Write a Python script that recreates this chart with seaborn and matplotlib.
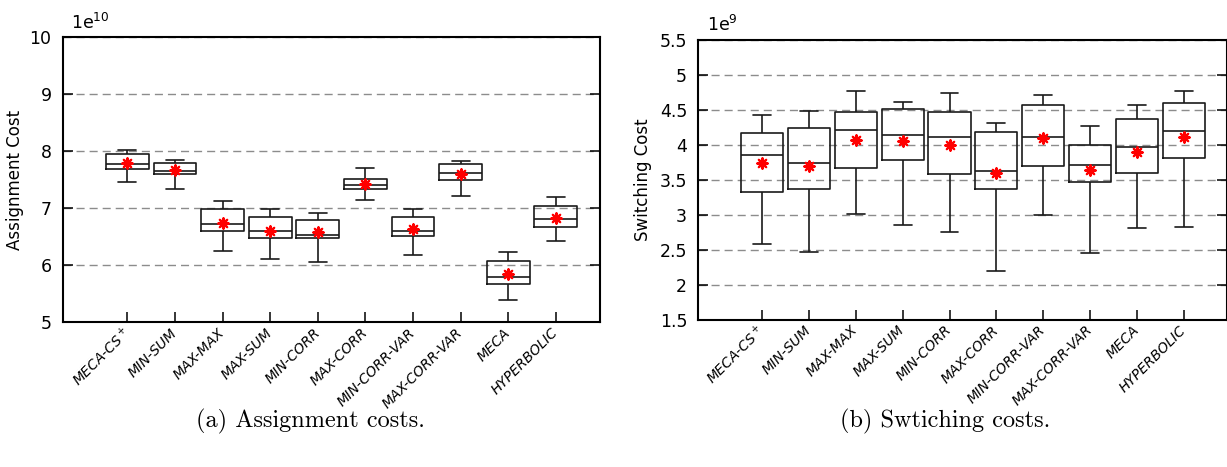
import numpy as np
import pandas as pd
import matplotlib
matplotlib.use("Agg")
import matplotlib.pyplot as plt
import seaborn as sns

# Heuristics compared in both panels
categories = ["MECA-CS$^+$", "MIN-SUM", "MAX-MAX", "MAX-SUM", "MIN-CORR",
              "MAX-CORR", "MIN-CORR-VAR", "MAX-CORR-VAR", "MECA", "HYPERBOLIC"]

# Assignment cost summary (units of 1e10): whisker ends, quartiles, median, mean
assign_low    = [7.46, 7.34, 6.25, 6.11, 6.06, 7.15, 6.18, 7.21, 5.39, 6.43]
assign_q1     = [7.69, 7.60, 6.61, 6.47, 6.48, 7.33, 6.52, 7.49, 5.68, 6.67]
assign_median = [7.77, 7.65, 6.73, 6.61, 6.54, 7.40, 6.60, 7.62, 5.79, 6.82]
assign_q3     = [7.95, 7.79, 6.98, 6.84, 6.80, 7.51, 6.84, 7.77, 6.08, 7.04]
assign_high   = [8.03, 7.85, 7.13, 6.99, 6.92, 7.70, 6.99, 7.83, 6.24, 7.20]
assign_mean   = [7.79, 7.67, 6.75, 6.61, 6.58, 7.43, 6.64, 7.60, 5.84, 6.83]

# Switching cost summary (units of 1e9)
switch_low    = [2.58, 2.46, 3.01, 2.85, 2.75, 2.20, 2.99, 2.45, 2.81, 2.83]
switch_q1     = [3.32, 3.37, 3.67, 3.78, 3.58, 3.36, 3.69, 3.47, 3.59, 3.81]
switch_median = [3.85, 3.73, 4.21, 4.14, 4.11, 3.63, 4.11, 3.71, 3.97, 4.19]
switch_q3     = [4.17, 4.24, 4.47, 4.51, 4.46, 4.18, 4.56, 3.99, 4.37, 4.59]
switch_high   = [4.42, 4.48, 4.76, 4.61, 4.73, 4.31, 4.71, 4.27, 4.56, 4.77]
switch_mean   = [3.74, 3.70, 4.07, 4.05, 4.00, 3.59, 4.09, 3.64, 3.90, 4.11]

assign_ticks = [5, 6, 7, 8, 9, 10]
switch_ticks = [1.5, 2, 2.5, 3, 3.5, 4, 4.5, 5, 5.5]

sns.set_theme(style="white", rc={
    "xtick.direction": "in", "ytick.direction": "in",
    "xtick.bottom": True, "ytick.left": True, "ytick.right": True,
    "xtick.major.size": 7, "ytick.major.size": 7,
    "xtick.major.width": 1.1, "ytick.major.width": 1.1,
    "axes.edgecolor": "black", "axes.linewidth": 1.5,
    "xtick.color": "black", "ytick.color": "black",
    "text.color": "black", "axes.labelcolor": "black",
})
plt.rcParams["font.family"] = ["DejaVu Sans"]
plt.rcParams["mathtext.default"] = "regular"


def five_number_frame(low, q1, med, q3, high):
    # each box is described by its five summary values
    rows = []
    for i, cat in enumerate(categories):
        for v in (low[i], q1[i], med[i], q3[i], high[i]):
            rows.append({"method": cat, "value": v})
    return pd.DataFrame(rows)


def draw_panel(ax, low, q1, med, q3, high, mean, ticks, ylim, ylabel, exp_text,
               label_x):
    df = five_number_frame(low, q1, med, q3, high)
    sns.boxplot(data=df, x="method", y="value", order=categories, ax=ax,
                fill=False, color="#1a1a1a", linewidth=1.2, width=0.9,
                whis=(0, 100), showfliers=False, capwidths=0.38)
    sns.scatterplot(x=np.arange(len(categories)), y=mean, ax=ax,
                    marker=(8, 2, 0), color="red", edgecolor="red",
                    s=55, linewidth=1.6, zorder=5, legend=False)
    ax.set_xlim(-1.36, len(categories) - 1 + 0.93)
    ax.set_ylim(*ylim)
    ax.set_yticks(ticks)
    ax.set_yticklabels([f"{t:g}" for t in ticks], fontsize=12.5)
    ax.set_xticks(np.arange(len(categories)))
    ax.set_xticklabels(categories, rotation=45, ha="right", va="center",
                       rotation_mode="anchor", fontsize=10, style="italic")
    ax.tick_params(axis="x", pad=6)
    ax.tick_params(axis="y", pad=8)
    ax.yaxis.grid(True, color="#8c8c8c", linestyle=(0, (5.8, 3.6)),
                  linewidth=1.0)
    ax.xaxis.grid(False)
    ax.set_axisbelow(True)
    ax.set_xlabel("")
    ax.set_ylabel(ylabel, fontsize=12)
    ax.yaxis.set_label_coords(label_x, 0.5)
    ax.text(0.016, 1.03, exp_text, transform=ax.transAxes, ha="left",
            va="baseline", fontsize=12.5)
    for s in ax.spines.values():
        s.set_visible(True)
        s.set_linewidth(1.5)
        s.set_color("black")


fig = plt.figure(figsize=(12.27, 4.67), dpi=100)
ax1 = fig.add_axes([0.0511, 0.3099, 0.4379, 0.6102])
ax2 = fig.add_axes([0.5691, 0.3154, 0.4313, 0.6000])

draw_panel(ax1, assign_low, assign_q1, assign_median, assign_q3, assign_high,
           assign_mean, assign_ticks, (5, 10), "Assignment Cost",
           "1e$^{10}$", -0.072)
draw_panel(ax2, switch_low, switch_q1, switch_median, switch_q3, switch_high,
           switch_mean, switch_ticks, (1.5, 5.5), "Switching Cost",
           "1e$^{9}$", -0.0875)

fig.text(310 / 1227, 1 - 421 / 467, "(a) Assignment costs.", ha="center",
         va="center", fontsize=17.5, family="cmr10")
fig.text(945 / 1227, 1 - 421 / 467, "(b) Swtiching costs.", ha="center",
         va="center", fontsize=17.5, family="cmr10")

fig.savefig("out.png", dpi=100)
